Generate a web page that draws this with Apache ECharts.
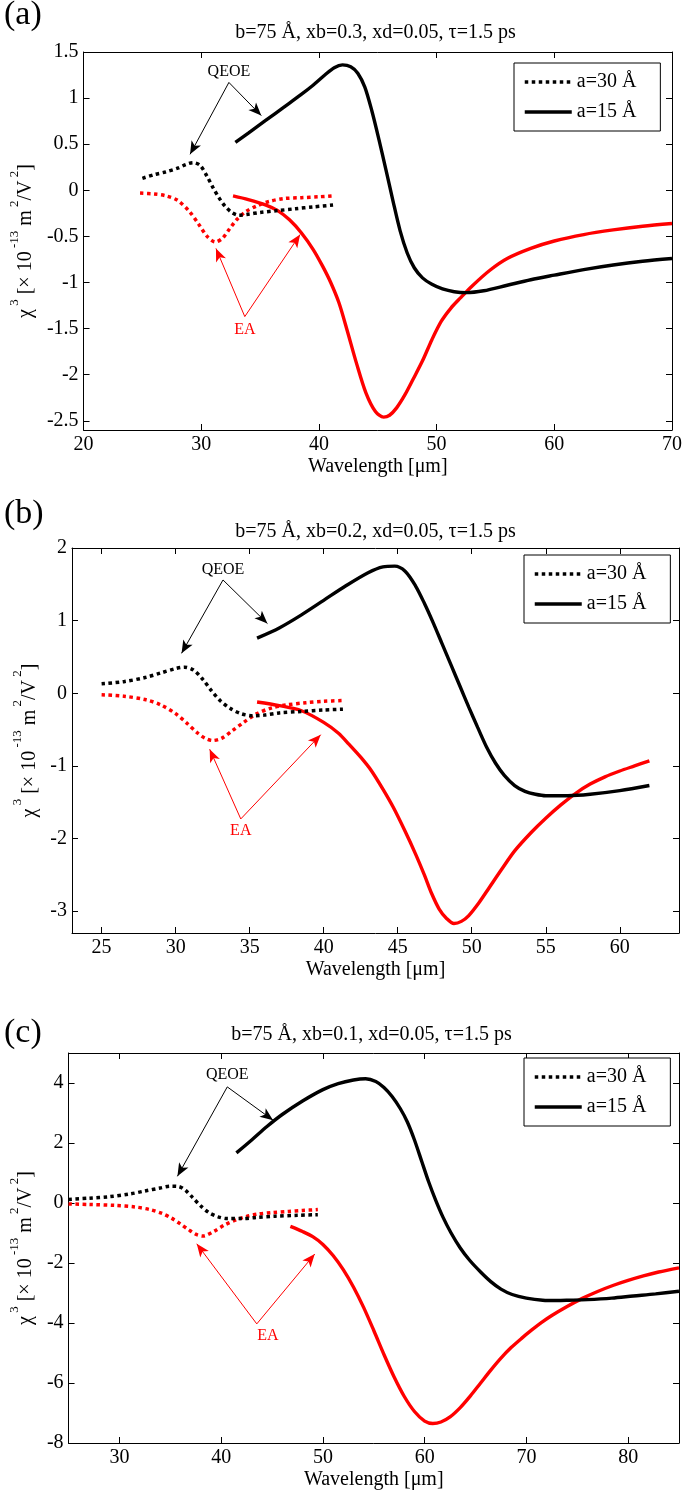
<!DOCTYPE html>
<html><head><meta charset="utf-8">
<script src="https://cdn.jsdelivr.net/npm/echarts@6/dist/echarts.min.js"></script>
<style>html,body{margin:0;padding:0;background:#fff}#c{width:685px;height:1495px}</style>
</head><body><div id="c"></div>
<script>
// ---------- text ----------
const titles = ['b=75 Å, xb=0.3, xd=0.05, τ=1.5 ps', 'b=75 Å, xb=0.2, xd=0.05, τ=1.5 ps', 'b=75 Å, xb=0.1, xd=0.05, τ=1.5 ps'];
const panelLabels = ['(a)', '(b)', '(c)'];
const legendNames = ['a=30 Å', 'a=15 Å'];
const redNames = ['EA a=30 Å', 'EA a=15 Å'];
const xName = 'Wavelength [μm]';
const yName = '{m|χ}{s| 3}{m| [× 10}{s| -13}{m| m}{s| 2}{m|/V}{s| 2}{m|]}';

// ---------- ticks ----------
const xTicksA = [20, 30, 40, 50, 60, 70];
const yTicksA = [-2.5, -2, -1.5, -1, -0.5, 0, 0.5, 1, 1.5];
const xTicksB = [25, 30, 35, 40, 45, 50, 55, 60];
const yTicksB = [-3, -2, -1, 0, 1, 2];
const xTicksC = [30, 40, 50, 60, 70, 80];
const yTicksC = [-8, -6, -4, -2, 0, 2, 4];

// ---------- panel (a) data ----------
const aBlkDotX = [25, 26, 27, 28, 28.7, 29.3, 29.9, 30.5, 31, 31.5, 32, 32.6, 33.2, 34, 35, 36.5, 38, 39.5, 41.2];
const aBlkDotY = [0.13, 0.17, 0.20, 0.24, 0.28, 0.30, 0.27, 0.15, 0.03, -0.08, -0.17, -0.24, -0.27, -0.26, -0.24, -0.22, -0.20, -0.18, -0.16];
const aBlkSolX = [32.9, 34, 35.5, 37, 38.5, 39.5, 40.5, 41.3, 42, 42.7, 43.3, 43.9, 44.5, 45.1, 45.7, 46.3, 46.9, 47.5, 48.1, 48.8, 49.6, 50.5, 51.5, 52.5, 54, 56, 58, 60, 62.5, 65, 67.5, 70];
const aBlkSolY = [0.52, 0.62, 0.76, 0.90, 1.04, 1.14, 1.25, 1.33, 1.36, 1.34, 1.27, 1.12, 0.86, 0.55, 0.22, -0.12, -0.44, -0.68, -0.84, -0.95, -1.02, -1.07, -1.10, -1.11, -1.09, -1.03, -0.97, -0.92, -0.86, -0.81, -0.77, -0.74];
const aRedDotX = [24.8, 26, 27, 28, 29, 29.8, 30.5, 31.2, 31.8, 32.4, 33, 33.8, 34.7, 35.8, 37, 38.5, 40, 41.2];
const aRedDotY = [-0.03, -0.04, -0.06, -0.11, -0.23, -0.37, -0.50, -0.56, -0.52, -0.42, -0.32, -0.23, -0.17, -0.12, -0.09, -0.08, -0.07, -0.06];
const aRedSolX = [32.7, 34, 35.5, 36.5, 37.5, 38.5, 39.5, 40.3, 41, 41.7, 42.4, 43.2, 44, 44.8, 45.5, 46, 46.6, 47.3, 48, 48.8, 49.6, 50.4, 51.2, 52, 53, 54.5, 56, 58, 60, 62.5, 65, 67.5, 70];
const aRedSolY = [-0.06, -0.10, -0.16, -0.22, -0.32, -0.46, -0.64, -0.82, -1.00, -1.22, -1.52, -1.88, -2.20, -2.40, -2.46, -2.44, -2.36, -2.22, -2.05, -1.85, -1.62, -1.42, -1.28, -1.17, -1.04, -0.87, -0.74, -0.63, -0.55, -0.48, -0.43, -0.39, -0.36];

// ---------- panel (b) data ----------
const bBlkDotX = [25, 26.5, 28, 29, 30, 30.6, 31.2, 31.8, 32.4, 33, 33.7, 34.4, 35.2, 36, 37, 38.5, 40, 41.3];
const bBlkDotY = [0.13, 0.16, 0.22, 0.28, 0.34, 0.36, 0.32, 0.20, 0.04, -0.10, -0.21, -0.28, -0.31, -0.30, -0.27, -0.25, -0.23, -0.22];
const bBlkSolX = [35.5, 37, 38.5, 40, 41.5, 43, 44, 44.8, 45.5, 46.2, 46.8, 47.4, 48, 48.6, 49.2, 49.8, 50.4, 51, 51.6, 52.2, 52.9, 53.6, 54.3, 55, 56.5, 58, 60, 62];
const bBlkSolY = [0.76, 0.90, 1.08, 1.28, 1.48, 1.66, 1.74, 1.75, 1.68, 1.48, 1.24, 0.97, 0.68, 0.39, 0.10, -0.19, -0.47, -0.74, -0.96, -1.13, -1.27, -1.35, -1.39, -1.41, -1.41, -1.39, -1.34, -1.27];
const bRedDotX = [25, 26.5, 28, 29, 30, 30.8, 31.5, 32, 32.5, 33.1, 33.8, 34.6, 35.5, 36.5, 37.5, 38.8, 40, 41.3];
const bRedDotY = [-0.02, -0.04, -0.09, -0.16, -0.28, -0.42, -0.55, -0.62, -0.65, -0.62, -0.52, -0.40, -0.28, -0.20, -0.16, -0.13, -0.11, -0.10];
const bRedSolX = [35.5, 37, 38.5, 40, 41, 41.7, 42.5, 43.2, 44, 44.7, 45.5, 46.2, 46.8, 47.3, 47.8, 48.3, 48.8, 49.3, 49.8, 50.5, 51.2, 52, 52.9, 54, 55, 56, 57, 58, 59, 60, 61, 62];
const bRedSolY = [-0.12, -0.17, -0.24, -0.40, -0.55, -0.70, -0.88, -1.06, -1.32, -1.57, -1.90, -2.21, -2.50, -2.76, -2.97, -3.10, -3.17, -3.14, -3.06, -2.88, -2.67, -2.43, -2.17, -1.92, -1.72, -1.54, -1.38, -1.25, -1.15, -1.07, -1.00, -0.93];

// ---------- panel (c) data ----------
const cBlkDotX = [25, 27, 29, 31, 32.5, 34, 35, 35.8, 36.5, 37.2, 38, 38.8, 39.7, 40.6, 42, 43.5, 45.3, 47.5, 49.5];
const cBlkDotY = [0.12, 0.16, 0.21, 0.30, 0.40, 0.50, 0.56, 0.55, 0.42, 0.18, -0.10, -0.32, -0.46, -0.52, -0.52, -0.48, -0.44, -0.41, -0.39];
const cBlkSolX = [41.5, 43, 44.5, 46, 48, 50, 51.5, 53, 54.2, 55.2, 56, 56.8, 57.6, 58.3, 59, 59.7, 60.4, 61.1, 61.8, 62.6, 63.5, 64.4, 65.5, 66.5, 67.5, 68.6, 70, 71.6, 73, 74.2, 76, 78.4, 80.5, 82.7, 85];
const cBlkSolY = [1.67, 2.1, 2.55, 2.95, 3.4, 3.78, 3.98, 4.10, 4.14, 4.05, 3.85, 3.55, 3.15, 2.7, 2.1, 1.4, 0.7, 0.08, -0.47, -1.0, -1.5, -1.9, -2.3, -2.62, -2.87, -3.05, -3.17, -3.24, -3.25, -3.24, -3.22, -3.17, -3.10, -3.03, -2.94];
const cRedDotX = [25, 27, 29.6, 31.5, 33, 34.2, 35.1, 36, 36.8, 37.5, 38.2, 39.3, 40.4, 41.5, 42.5, 43.6, 45, 46.6, 48, 49.5];
const cRedDotY = [-0.03, -0.05, -0.08, -0.13, -0.22, -0.35, -0.50, -0.70, -0.89, -1.04, -1.10, -0.94, -0.72, -0.56, -0.45, -0.37, -0.32, -0.28, -0.25, -0.22];
const cRedSolX = [46.8, 48, 49, 50, 51, 52, 53, 54, 55, 56, 57, 58, 59, 60, 60.8, 61.6, 62.5, 63.5, 64.5, 65.5, 66.5, 67.5, 68.5, 69.5, 70.5, 71.5, 72.5, 74, 75.5, 77, 78.5, 80, 81.5, 83, 85];
const cRedSolY = [-0.78, -0.95, -1.12, -1.38, -1.75, -2.22, -2.80, -3.48, -4.25, -5.05, -5.80, -6.45, -6.95, -7.27, -7.35, -7.30, -7.13, -6.82, -6.43, -6.00, -5.57, -5.17, -4.82, -4.52, -4.24, -3.98, -3.75, -3.45, -3.18, -2.95, -2.75, -2.58, -2.43, -2.30, -2.16];

// ---------- annotations (data coordinates) ----------
const qeoeA = { text: [32.35, 1.29], from: [32.35, 1.17], to: [[29.05, 0.39], [35.1, 0.81]] };
const eaA   = { text: [33.7, -1.51], from: [33.7, -1.37], to: [[31.25, -0.63], [38.4, -0.48]] };
const qeoeB = { text: [33.2, 1.70], from: [33.2, 1.56], to: [[30.4, 0.55], [36.2, 0.96]] };
const eaB   = { text: [34.4, -1.89], from: [34.4, -1.73], to: [[32.3, -0.77], [39.8, -0.57]] };
const qeoeC = { text: [40.6, 4.26], from: [40.6, 3.87], to: [[35.7, 0.89], [45.1, 2.76]] };
const eaC   = { text: [44.6, -4.44], from: [43.5, -4.03], to: [[37.6, -1.36], [49.2, -1.7]] };

// ---------- layout ----------
const FONT = 'Liberation Serif';
const RED = '#ff0000';
const panels = [
  { grid: {left: 77, top: 52, width: 597, height: 378}, xr: [20, 70], yr: [-2.6, 1.5], xt: xTicksA, yt: yTicksA,
    d: [[aBlkDotX, aBlkDotY], [aBlkSolX, aBlkSolY], [aRedDotX, aRedDotY], [aRedSolX, aRedSolY]],
    q: qeoeA, e: eaA, leg: {left: 514, top: 63}, titleTop: 21, labelTop: -2, yGap: 42 },
  { grid: {left: 72, top: 548, width: 607, height: 385}, xr: [23, 64], yr: [-3.3, 2], xt: xTicksB, yt: yTicksB,
    d: [[bBlkDotX, bBlkDotY], [bBlkSolX, bBlkSolY], [bRedDotX, bRedDotY], [bRedSolX, bRedSolY]],
    q: qeoeB, e: eaB, leg: {left: 524, top: 555}, titleTop: 520, labelTop: 497, yGap: 32 },
  { grid: {left: 64, top: 1053, width: 615, height: 390}, xr: [25, 85], yr: [-8, 5], xt: xTicksC, yt: yTicksC,
    d: [[cBlkDotX, cBlkDotY], [cBlkSolX, cBlkSolY], [cRedDotX, cRedDotY], [cRedSolX, cRedSolY]],
    q: qeoeC, e: eaC, leg: {left: 524, top: 1058}, titleTop: 1023, labelTop: 1016, yGap: 30 }
];

function pairs(xs, ys) { return xs.map((x, i) => [x, ys[i]]); }
const txt = (size) => ({ fontFamily: FONT, fontSize: size, color: '#000', fontWeight: 'normal' });

const option = { animation: false, backgroundColor: '#fff', grid: [], xAxis: [], yAxis: [], series: [], title: [], legend: [] };

panels.forEach((p, i) => {
  option.grid.push(Object.assign({ containLabel: false }, p.grid));
  const axLine = { show: true, onZero: false, lineStyle: { color: '#000', width: 1 } };
  const tick = (vals) => ({ show: true, inside: true, length: 6, lineStyle: { color: '#000', width: 1 }, customValues: vals });
  option.xAxis.push({
    type: 'value', gridIndex: i, min: p.xr[0], max: p.xr[1], position: 'bottom',
    axisLine: axLine, axisTick: tick(p.xt), splitLine: { show: false },
    axisLabel: Object.assign({ customValues: p.xt, margin: 5 }, txt(20)),
    name: xName, nameLocation: 'middle', nameGap: 27, nameTextStyle: txt(20)
  });
  option.xAxis.push({
    type: 'value', gridIndex: i, min: p.xr[0], max: p.xr[1], position: 'top',
    axisLine: axLine, axisTick: tick(p.xt), splitLine: { show: false }, axisLabel: { show: false }
  });
  option.yAxis.push({
    type: 'value', gridIndex: i, min: p.yr[0], max: p.yr[1], position: 'left',
    axisLine: axLine, axisTick: tick(p.yt), splitLine: { show: false },
    axisLabel: Object.assign({ customValues: p.yt, margin: 5 }, txt(20)),
    name: yName, nameLocation: 'middle', nameRotate: 90, nameGap: p.yGap,
    nameTextStyle: {
      fontFamily: FONT, color: '#000',
      rich: {
        m: { fontFamily: FONT, fontSize: 20, color: '#000', verticalAlign: 'bottom', lineHeight: 28 },
        s: { fontFamily: FONT, fontSize: 13, color: '#000', verticalAlign: 'top', lineHeight: 13 }
      }
    }
  });
  option.yAxis.push({
    type: 'value', gridIndex: i, min: p.yr[0], max: p.yr[1], position: 'right',
    axisLine: axLine, axisTick: tick(p.yt), splitLine: { show: false }, axisLabel: { show: false }
  });

  const arrows = (a, color) => ({
    silent: true, animation: false, symbol: ['none', 'arrow'],
    label: { show: false }, emphasis: { disabled: true },
    lineStyle: { color: color, width: 1, type: 'solid' },
    data: a.to.map(t => [{ coord: a.from, symbol: 'none' }, { coord: t, symbol: 'arrow', symbolSize: [8, 13] }])
  });
  const textMark = (a, label, color) => ({
    silent: true, animation: false, symbol: 'circle', symbolSize: 1,
    itemStyle: { color: 'rgba(0,0,0,0)' },
    label: Object.assign({ show: true, position: 'inside', formatter: label }, txt(16), { color: color }),
    data: [{ coord: a.text, name: label }]
  });
  const base = { type: 'line', xAxisIndex: 2 * i, yAxisIndex: 2 * i, showSymbol: false, symbol: 'none',
                 smooth: 0.3, silent: true, emphasis: { disabled: true } };

  option.series.push(Object.assign({}, base, {
    name: legendNames[0], data: pairs(p.d[0][0], p.d[0][1]), color: '#000',
    lineStyle: { color: '#000', width: 3.5, type: 'dotted' }, z: 3,
    markLine: arrows(p.q, '#000'), markPoint: textMark(p.q, 'QEOE', '#000')
  }));
  option.series.push(Object.assign({}, base, {
    name: legendNames[1], data: pairs(p.d[1][0], p.d[1][1]), color: '#000',
    lineStyle: { color: '#000', width: 3.4, type: 'solid' }, z: 3
  }));
  option.series.push(Object.assign({}, base, {
    name: redNames[0], data: pairs(p.d[2][0], p.d[2][1]), color: RED,
    lineStyle: { color: RED, width: 3.5, type: 'dotted' }, z: 2,
    markLine: arrows(p.e, RED), markPoint: textMark(p.e, 'EA', RED)
  }));
  option.series.push(Object.assign({}, base, {
    name: redNames[1], data: pairs(p.d[3][0], p.d[3][1]), color: RED,
    lineStyle: { color: RED, width: 3.4, type: 'solid' }, z: 2
  }));

  option.title.push({ text: panelLabels[i], left: 4, top: p.labelTop, padding: 0, textStyle: txt(34) });
  option.title.push({ text: titles[i], left: p.grid.left + p.grid.width / 2, top: p.titleTop, padding: 0,
                      textAlign: 'center', textStyle: Object.assign(txt(20), { lineHeight: 24 }) });

  option.legend.push({
    data: legendNames, orient: 'vertical', left: p.leg.left, top: p.leg.top,
    itemWidth: 47, itemHeight: 20, itemGap: 10, padding: [9, 24, 9, 9],
    itemStyle: { color: 'rgba(0,0,0,0)', borderColor: 'rgba(0,0,0,0)', borderWidth: 0 },
    lineStyle: { width: 3.5 },
    borderColor: '#000', borderWidth: 1, backgroundColor: '#fff', selectedMode: false,
    textStyle: txt(20), z: 10
  });
});

const chart = echarts.init(document.getElementById('c'), null, { renderer: 'canvas' });
chart.setOption(option);
</script></body></html>
